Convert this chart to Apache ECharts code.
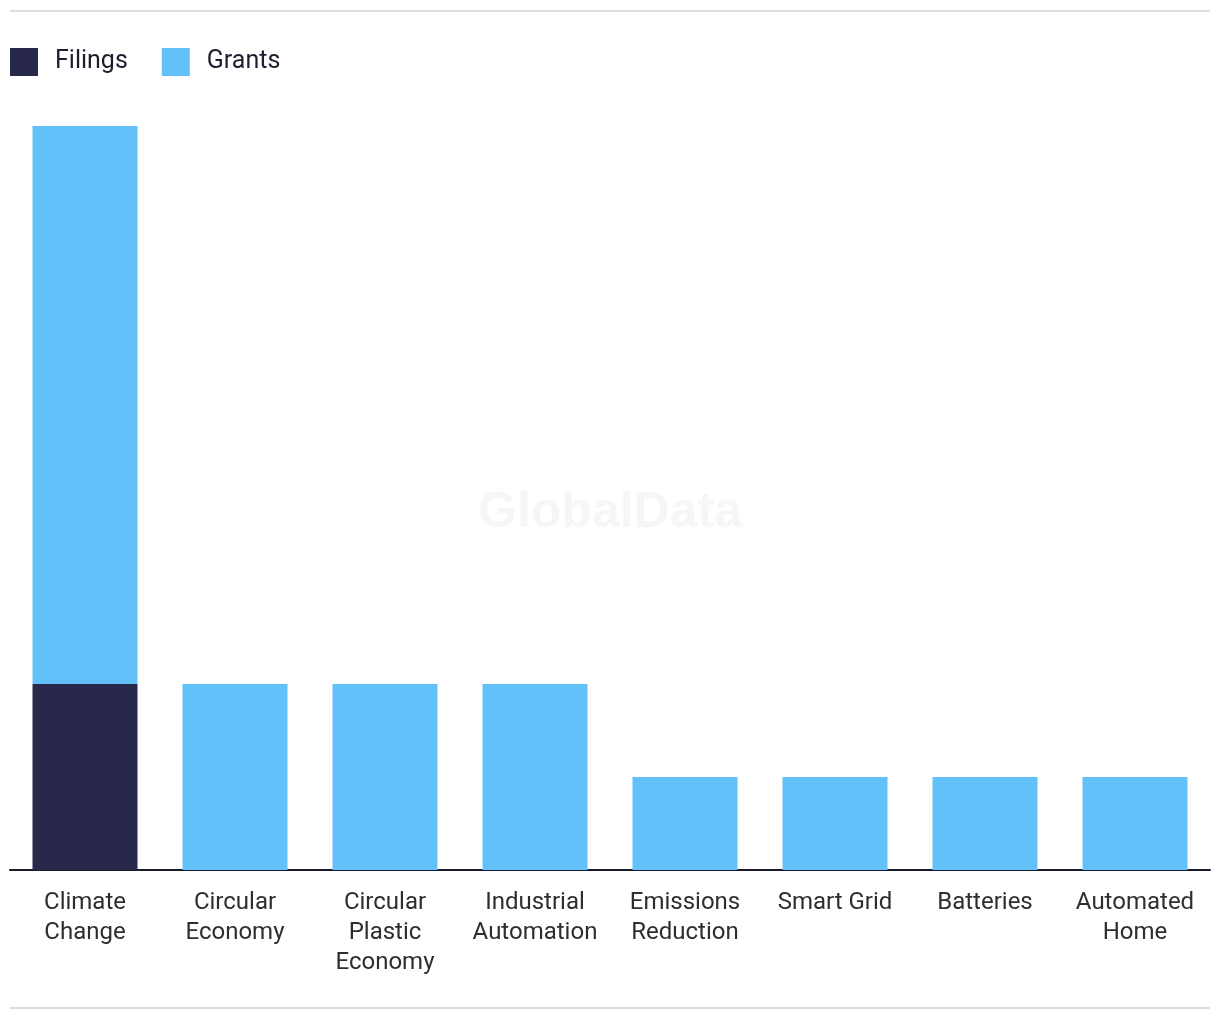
<!DOCTYPE html>
<html lang="en">
<head>
    <meta charset="UTF-8">
    <title>Filings and Grants</title>
    <script src="https://cdn.jsdelivr.net/npm/echarts@6/dist/echarts.min.js"></script>
    <style>
        html, body { margin: 0; padding: 0; background: #ffffff; }
        #main { width: 1220px; height: 1020px; }
    </style>
</head>
<body>
<div id="main"></div>

<script type="text/javascript">
    var categories = ['Climate\nChange', 'Circular\nEconomy', 'Circular\nPlastic\nEconomy', 'Industrial\nAutomation',
        'Emissions\nReduction', 'Smart Grid', 'Batteries', 'Automated\nHome'];
    var filings = [2, 0, 0, 0, 0, 0, 0, 0];
    var grants = [6, 2, 2, 2, 1, 1, 1, 1];

    var myChart = echarts.init(document.getElementById('main'));

    var option = {
        backgroundColor: '#ffffff',
        textStyle: {
            fontFamily: 'Roboto, sans-serif'
        },
        legend: {
            left: 10,
            top: 48,
            padding: 0,
            itemWidth: 28,
            itemHeight: 28,
            itemGap: 34,
            icon: 'rect',
            textStyle: {
                color: '#1e1e2e',
                fontSize: 25,
                padding: [0, 0, 0, 12]
            },
            data: ['Filings', 'Grants']
        },
        graphic: [
            {
                type: 'rect',
                shape: { x: 10, y: 10, width: 1200, height: 2 },
                style: { fill: '#dddddd' }
            },
            {
                type: 'rect',
                shape: { x: 10, y: 1007, width: 1200, height: 2 },
                style: { fill: '#dddddd' }
            },
            {
                type: 'text',
                left: 'center',
                top: 488,
                z: -1,
                style: {
                    text: 'GlobalData',
                    fontSize: 50,
                    fontWeight: 'bold',
                    fontFamily: 'Liberation Sans, Arial, sans-serif',
                    fill: '#f6f6f6'
                }
            }
        ],
        grid: {
            left: 10,
            right: 10,
            top: 126,
            bottom: 150,
            containLabel: false
        },
        xAxis: {
            type: 'category',
            data: categories,
            axisTick: { show: false },
            axisLine: {
                lineStyle: { color: '#1a1a2e', width: 2 }
            },
            axisLabel: {
                interval: 0,
                color: '#2e2e2e',
                fontSize: 24,
                lineHeight: 30,
                margin: 18,
                align: 'center'
            }
        },
        yAxis: {
            type: 'value',
            min: 0,
            max: 8,
            interval: 1,
            show: false,
            splitLine: { show: false }
        },
        series: [
            {
                name: 'Filings',
                type: 'bar',
                stack: 'total',
                barWidth: '70%',
                itemStyle: { color: '#27284a' },
                data: filings
            },
            {
                name: 'Grants',
                type: 'bar',
                stack: 'total',
                barWidth: '70%',
                itemStyle: { color: '#62c1f9' },
                data: grants
            }
        ]
    };

    myChart.setOption(option);
</script>
</body>
</html>
